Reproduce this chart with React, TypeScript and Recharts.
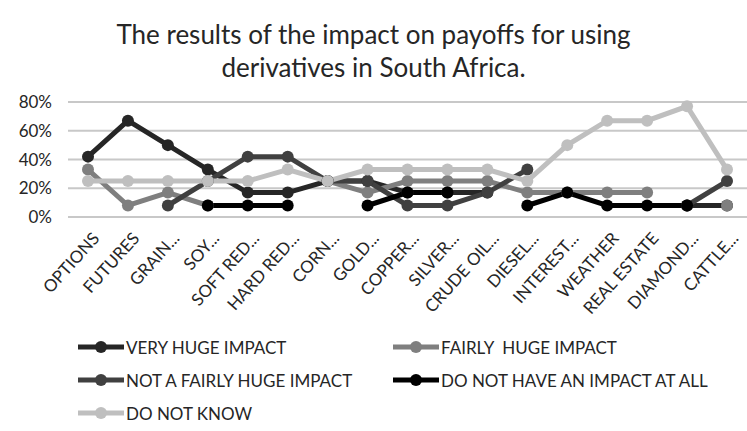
import React from "react";
import { LineChart, Line, XAxis, YAxis, CartesianGrid, Legend } from "recharts";

const categories = [
  "OPTIONS",
  "FUTURES",
  "GRAIN...",
  "SOY...",
  "SOFT RED...",
  "HARD RED...",
  "CORN...",
  "GOLD...",
  "COPPER...",
  "SILVER...",
  "CRUDE OIL...",
  "DIESEL...",
  "INTEREST...",
  "WEATHER",
  "REAL ESTATE",
  "DIAMOND...",
  "CATTLE...",
];

const veryHuge = [42, 67, 50, 33, 17, 17, 25, 25, 17, 17, 17, null, null, null, null, 8, 8];
const fairlyHuge = [33, 8, 17, 8, null, null, 25, 17, 25, 25, 25, 17, 17, 17, 17, null, 8];
const notFairlyHuge = [null, null, 8, 25, 42, 42, 25, 25, 8, 8, 17, 33, null, null, null, 8, 25];
const noImpact = [null, null, null, 8, 8, 8, null, 8, 17, 17, null, 8, 17, 8, 8, 8, null];
const doNotKnow = [25, 25, 25, 25, 25, 33, 25, 33, 33, 33, 33, 25, 50, 67, 67, 77, 33];

const yTicks = [0, 20, 40, 60, 80];

const series = [
  { key: "veryHuge", name: "VERY HUGE IMPACT", color: "#262626", values: veryHuge },
  { key: "fairlyHuge", name: "FAIRLY  HUGE IMPACT", color: "#7f7f7f", values: fairlyHuge },
  { key: "notFairlyHuge", name: "NOT A FAIRLY HUGE IMPACT", color: "#404040", values: notFairlyHuge },
  { key: "noImpact", name: "DO NOT HAVE AN IMPACT AT ALL", color: "#000000", values: noImpact },
  { key: "doNotKnow", name: "DO NOT KNOW", color: "#bfbfbf", values: doNotKnow },
];

const data = categories.map((cat, i) => {
  const row: any = { cat };
  series.forEach((s) => {
    row[s.key] = s.values[i];
  });
  return row;
});

const FONT = "Lato, 'Open Sans', sans-serif";

const XTick = (props: any) => {
  const { x, y, payload } = props;
  return (
    <g transform={`translate(${x + 8},${y + 10})`}>
      <text
        transform="rotate(-48)"
        textAnchor="end"
        dy={6}
        fontSize={17}
        fontFamily={FONT}
        fill="#262626"
      >
        {payload.value}
      </text>
    </g>
  );
};

const renderLegend = () => {
  const pos = [
    [0, 0],
    [315, 0],
    [0, 33],
    [315, 33],
    [0, 66],
  ];
  return (
    <div style={{ position: "relative", width: 660, height: 96 }}>
      {series.map((s, i) => (
        <div
          key={s.key}
          style={{
            position: "absolute",
            left: pos[i][0],
            top: pos[i][1],
            height: 24,
            display: "flex",
            alignItems: "center",
            fontFamily: FONT,
            fontSize: 17,
            color: "#262626",
            whiteSpace: "pre",
          }}
        >
          <svg width={46} height={14} style={{ marginRight: 2 }}>
            <line x1={0} y1={7} x2={46} y2={7} stroke={s.color} strokeWidth={5} />
            <circle cx={23} cy={7} r={6} fill={s.color} />
          </svg>
          {s.name}
        </div>
      ))}
    </div>
  );
};

export default function App() {
  return (
    <div style={{ position: "absolute", left: 0, top: 0, width: 747, height: 431, background: "#fff" }}>
      <div
        style={{
          position: "absolute",
          left: 0,
          top: 18,
          width: 747,
          textAlign: "center",
          fontFamily: FONT,
          fontSize: 26,
          lineHeight: "33px",
          color: "#262626",
        }}
      >
        The results of the impact on payoffs for using
        <br />
        derivatives in South Africa.
      </div>
      <LineChart
        width={747}
        height={431}
        data={data}
        margin={{ top: 102, right: 0, bottom: 0, left: 8 }}
      >
        <CartesianGrid vertical={false} stroke="#c8c8c8" strokeWidth={2} />
        <XAxis
          dataKey="cat"
          interval={0}
          padding={{ left: 20, right: 20 }}
          tickLine={false}
          axisLine={{ stroke: "#c8c8c8", strokeWidth: 2 }}
          height={118}
          tick={<XTick />}
        />
        <YAxis
          domain={[0, 80]}
          ticks={yTicks}
          width={60}
          tickLine={false}
          axisLine={false}
          tickSize={0}
          tickMargin={16}
          tickFormatter={(v: number) => `${v}%`}
          tick={{ fontSize: 17, fontFamily: FONT, fill: "#262626" }}
        />
        <Legend
          verticalAlign="bottom"
          align="left"
          content={renderLegend}
          wrapperStyle={{ left: 78, bottom: 0, height: 96, width: 660 }}
        />
        {series.map((s) => (
          <Line
            key={s.key}
            dataKey={s.key}
            name={s.name}
            stroke={s.color}
            strokeWidth={5}
            dot={{ r: 6, fill: s.color, stroke: "none" }}
            activeDot={false}
            isAnimationActive={false}
          />
        ))}
      </LineChart>
    </div>
  );
}
